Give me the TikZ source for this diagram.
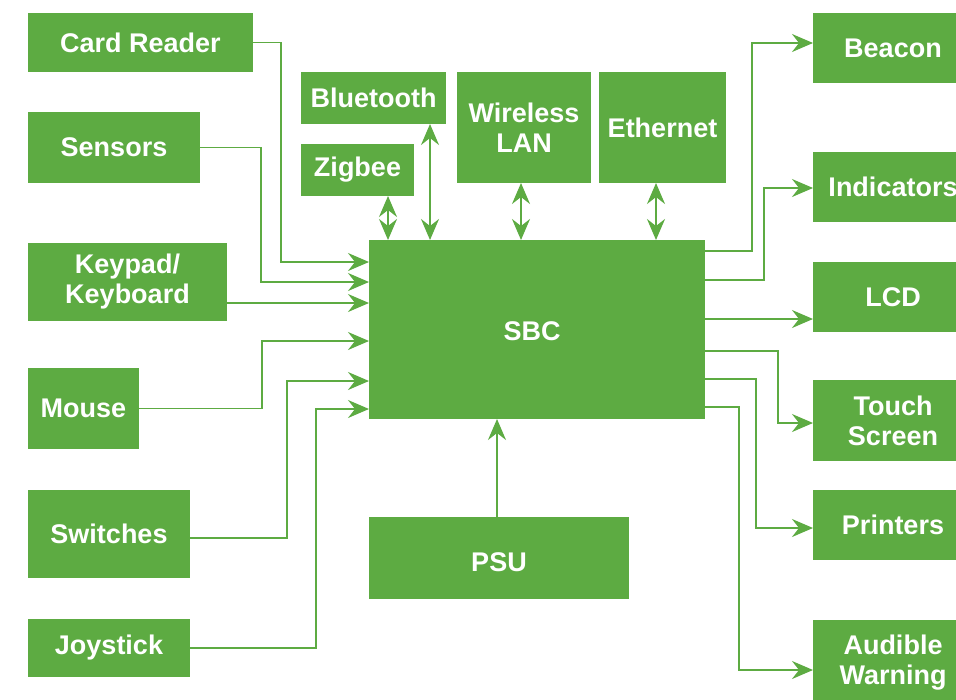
\documentclass[tikz,border=0pt]{standalone}
\usepackage{fontspec}
\setmainfont{Liberation Sans}
\usetikzlibrary{arrows.meta}
\definecolor{grn}{RGB}{93,171,66}
\begin{document}
\begin{tikzpicture}[x=1pt,y=-1pt,
  box/.style={fill=grn, text=white, inner sep=0pt, outer sep=0pt, anchor=north west,
    align=center, font=\bfseries\fontsize{27}{30}\selectfont},
  tip/.tip={Stealth[length=21pt,width=18pt,inset=7pt]},
  conn/.style={draw=grn, line width=1.8pt, -tip},
  bidir/.style={draw=grn, line width=1.8pt, tip-tip}]
\clip (0,0) rectangle (956,699);
\useasboundingbox (0,0) rectangle (956,699);
% left inputs
\node[box, minimum width=225, minimum height=59] (cr) at (28,13) {Card Reader};
\node[box, minimum width=172, minimum height=71] (sen) at (28,112) {Sensors};
\node[box, minimum width=199, minimum height=78] (kb) at (28,243) {Keypad/\\Keyboard};
\node[box, minimum width=111, minimum height=81] (mouse) at (28,368) {Mouse};
\node[box, minimum width=162, minimum height=88] (sw) at (28,490) {Switches};
\node[box, minimum width=162, minimum height=58] (joy) at (28,619) {Joystick};
% top comms
\node[box, minimum width=145, minimum height=52] (bt) at (301,72) {Bluetooth};
\node[box, minimum width=113, minimum height=52] (zig) at (301,144) {Zigbee};
\node[box, minimum width=134, minimum height=111] (wl) at (457,72) {Wireless\\LAN};
\node[box, minimum width=127, minimum height=111] (eth) at (599,72) {Ethernet};
% centre
\node[box, minimum width=336, minimum height=179] (sbc) at (369,240) {\hspace*{-10pt}\raisebox{-2pt}[\height][0pt]{SBC}};
\node[box, minimum width=260, minimum height=82] (psu) at (369,517) {\raisebox{-4pt}[\height][0pt]{PSU}};
% right outputs
\node[box, minimum width=160, minimum height=70] (bea) at (813,13) {Beacon};
\node[box, minimum width=160, minimum height=70] (ind) at (813,152) {Indicators};
\node[box, minimum width=160, minimum height=70] (lcd) at (813,262) {LCD};
\node[box, minimum width=160, minimum height=81] (ts) at (813,380) {Touch\\Screen};
\node[box, minimum width=160, minimum height=70] (pr) at (813,490) {Printers};
\node[box, minimum width=160, minimum height=86] (aw) at (813,620) {Audible\\Warning};
% input connectors
\draw[conn] (cr.east) -| (281,262) -- (sbc.west |- 0,262);
\draw[conn] (sen.east) -| (261,282) -- (sbc.west |- 0,282);
\draw[conn] (kb.east |- 0,303) -- (sbc.west |- 0,303);
\draw[conn] (mouse.east) -| (262,341) -- (sbc.west |- 0,341);
\draw[conn] (sw.east |- 0,538) -| (287,381) -- (sbc.west |- 0,381);
\draw[conn] (joy.east) -| (316,409) -- (sbc.west |- 0,409);
% output connectors
\draw[conn] (sbc.east |- 0,251) -| (752,43) -- (bea.west |- 0,43);
\draw[conn] (sbc.east |- 0,280) -| (764,188) -- (ind.west |- 0,188);
\draw[conn] (sbc.east |- 0,319) -- (lcd.west |- 0,319);
\draw[conn] (sbc.east |- 0,351) -| (778,423) -- (ts.west |- 0,423);
\draw[conn] (sbc.east |- 0,379) -| (756,528) -- (pr.west |- 0,528);
\draw[conn] (sbc.east |- 0,407) -| (739,670) -- (aw.west |- 0,670);
% comms connectors
\draw[bidir] (zig.south -| 388,0) -- (sbc.north -| 388,0);
\draw[bidir] (bt.south -| 430,0) -- (sbc.north -| 430,0);
\draw[bidir] (wl.south -| 521,0) -- (sbc.north -| 521,0);
\draw[bidir] (eth.south -| 656,0) -- (sbc.north -| 656,0);
% power
\draw[conn] (psu.north -| 497,0) -- (sbc.south -| 497,0);
\end{tikzpicture}
\end{document}
